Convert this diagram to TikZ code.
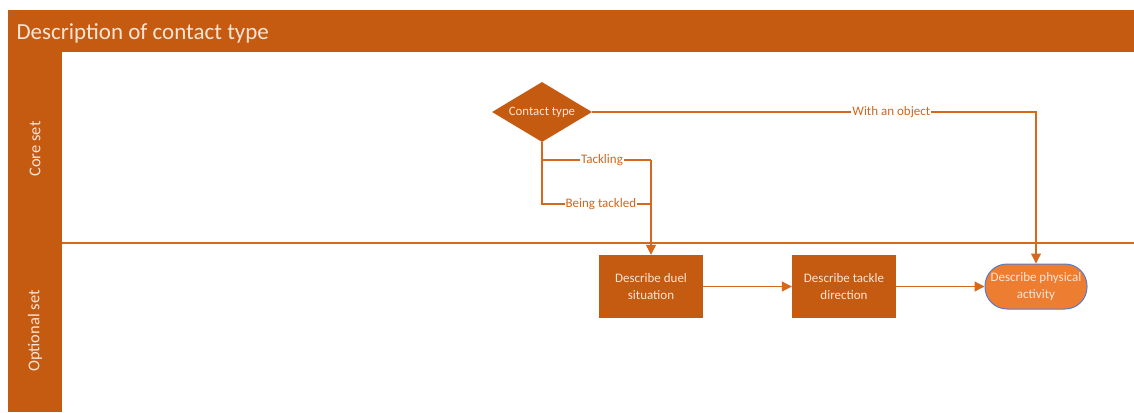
\documentclass[tikz,border=0pt]{standalone}
\usepackage{fontspec}
\setmainfont{Carlito}
\usetikzlibrary{shapes.geometric,arrows.meta}
\definecolor{band}{HTML}{C55A11}
\definecolor{flow}{HTML}{D4691E}
\definecolor{lbl}{HTML}{D0661C}
\definecolor{term}{HTML}{ED7D31}
\definecolor{termedge}{HTML}{5B7BC8}
\definecolor{boxtext}{HTML}{FBE5D6}
\tikzset{
  px/.style={x=1pt,y=-1pt},
  procbox/.style={rectangle,fill=band,text=boxtext,minimum width=104pt,minimum height=63pt,align=center,font=\fontsize{13}{16.5}\selectfont,inner sep=2pt},
  decision/.style={diamond,fill=band,text=boxtext,minimum width=100pt,minimum height=60pt,aspect=1.67,inner sep=0pt,font=\fontsize{12.8}{15}\selectfont},
  terminal/.style={rectangle,rounded corners=22pt,fill=term,draw=termedge,line width=1pt,text=boxtext,minimum width=102pt,minimum height=45pt,align=center,font=\fontsize{13}{16.5}\selectfont,inner sep=2pt},
  conn/.style={draw=flow,line width=1.2pt},
  arr/.style={conn,-{Triangle[length=10pt,width=10pt]}},
  edgelabel/.style={fill=white,text=lbl,inner sep=1pt,font=\fontsize{13}{15}\selectfont},
  lanelabel/.style={text=boxtext,rotate=90,font=\fontsize{16.5}{19}\selectfont}
}
\begin{document}
\begin{tikzpicture}[px]
\useasboundingbox (0,0) rectangle (1134,412);
\fill[white] (0,0) rectangle (1134,412);
% swimlane frame
\fill[band] (8,10) rectangle (1134,52);
\fill[band] (8,52) rectangle (62,412);
\node[anchor=west,text=boxtext,font=\fontsize{23}{26}\selectfont] (title) at (13,33) {Description of contact type};
\node[lanelabel] (core) at (35,149) {Core set};
\node[lanelabel] (optional) at (35,331) {Optional set};
\coordinate (divL) at (62,243);
\coordinate (divR) at (1134,243);
\draw[conn] (divL) -- (divR);
% flow nodes
\node[decision] (contact) at (542,112) {Contact type};
\node[procbox] (duel) at (651,286.5) {Describe duel\\situation};
\node[procbox] (tackle) at (844,286.5) {Describe tackle\\direction};
\node[terminal] (phys) at (1036,286.5) {Describe physical\\activity};
% connectors
\coordinate (tk) at (651,160);
\coordinate (bt) at (651,204);
\draw[conn] (contact.south) |- (tk) node[edgelabel,pos=0.775] {Tackling};
\draw[conn] (contact.south) |- (bt) node[edgelabel,pos=0.77] {Being tackled};
\draw[arr] (tk) -- (duel.north);
\draw[arr] (contact.east) -| (phys.north) node[edgelabel,pos=0.337] {With an object};
\draw[arr] (duel.east) -- (tackle.west);
\draw[arr] (tackle.east) -- (phys.west);
\end{tikzpicture}
\end{document}
